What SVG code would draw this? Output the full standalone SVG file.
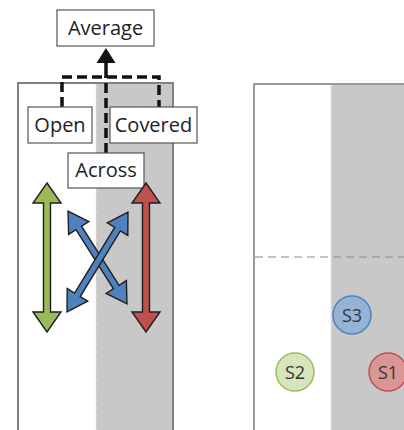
<svg xmlns="http://www.w3.org/2000/svg" width="404" height="430" viewBox="0 0 404 430">
<defs>
<style>
.lbl{font-family:"Open Sans","Liberation Sans",sans-serif;font-size:20px;fill:#222;text-anchor:middle}
.box{fill:#fff;stroke:#555;stroke-width:1.2}
.dash{fill:none;stroke:#111;stroke-width:3.5;stroke-dasharray:10 5}
.panel{fill:#fff;stroke:#7a7a7a;stroke-width:1.5}
.shade{fill:#c8c8c8}
.arr{stroke:#1e1e1e;stroke-width:1.4;stroke-linejoin:miter}
.sl{font-family:"Open Sans","Liberation Sans",sans-serif;font-size:18px;fill:#333;text-anchor:middle}
</style>
<polygon id="dblBig" points="0,-74.5 14,-54.5 3.5,-54.5 3.5,54.5 14,54.5 0,74.5 -14,54.5 -3.5,54.5 -3.5,-54.5 -14,-54.5"/>
</defs>
<g id="left-panel">
<rect class="panel" x="18" y="83" width="155" height="360"/>
<rect class="shade" x="96" y="84" width="76" height="360"/>
<line x1="96" y1="84" x2="96" y2="430" stroke="#e6e6e6" stroke-width="1" stroke-dasharray="4 3"/>
<rect x="18" y="83" width="155" height="360" fill="none" stroke="#7a7a7a" stroke-width="1.5"/>
</g>
<g id="right-panel">
<rect class="panel" x="254" y="84" width="160" height="360"/>
<rect class="shade" x="331" y="85" width="80" height="360"/>
<line x1="331" y1="85" x2="331" y2="430" stroke="#e6e6e6" stroke-width="1" stroke-dasharray="4 3"/>
<line x1="255" y1="257" x2="404" y2="257" stroke="#8a8a8a" stroke-width="1" stroke-dasharray="8 5"/>
</g>
<g id="connectors">
<path class="dash" d="M62,107 V77 H159 V107"/>
<path class="dash" d="M106,153 V77"/>
<line x1="106" y1="78" x2="106" y2="60" stroke="#111" stroke-width="3.5"/>
<polygon points="106,48 115.5,63 96.5,63" fill="#111"/>
</g>
<g id="node-average">
<rect class="box" x="57" y="10" width="97" height="36"/>
<text class="lbl" x="105.5" y="35">Average</text>
</g>
<g id="node-open">
<rect class="box" x="28" y="107" width="64" height="36"/>
<text class="lbl" x="60" y="132">Open</text>
</g>
<g id="node-covered">
<rect class="box" x="110" y="107" width="87" height="36"/>
<text class="lbl" x="153.5" y="132">Covered</text>
</g>
<g id="node-across">
<rect class="box" x="68" y="153" width="76" height="35"/>
<text class="lbl" x="106" y="177">Across</text>
</g>
<g id="arrow-open">
<use href="#dblBig" class="arr" fill="#9bbb59" transform="translate(47,257.5)"/>
</g>
<g id="arrow-covered">
<use href="#dblBig" class="arr" fill="#c0504d" transform="translate(146,257.5)"/>
</g>
<g id="arrows-across">
<polygon class="arr" fill="#4f81bd" transform="translate(97.5,257.5) rotate(-32.4)" points="0,-55 12,-35 3.3,-35 3.3,35 12,35 0,55 -12,35 -3.3,35 -3.3,-35 -12,-35"/>
<polygon class="arr" fill="#4f81bd" transform="translate(97.5,262) rotate(31.4)" points="0,-58.5 12,-38.5 3.3,-38.5 3.3,38.5 12,38.5 0,58.5 -12,38.5 -3.3,38.5 -3.3,-38.5 -12,-38.5"/>
</g>
<g id="node-s3">
<circle cx="352" cy="315" r="19" fill="#95b3d7" stroke="#4f81bd" stroke-width="1.5"/>
<text class="sl" x="352" y="321.5">S3</text>
</g>
<g id="node-s2">
<circle cx="295" cy="372" r="19" fill="#d7e4bc" stroke="#9bbb59" stroke-width="1.5"/>
<text class="sl" x="295" y="378.5">S2</text>
</g>
<g id="node-s1">
<circle cx="388" cy="372" r="19" fill="#d99694" stroke="#c0504d" stroke-width="1.5"/>
<text class="sl" x="388" y="378.5">S1</text>
</g>
</svg>
